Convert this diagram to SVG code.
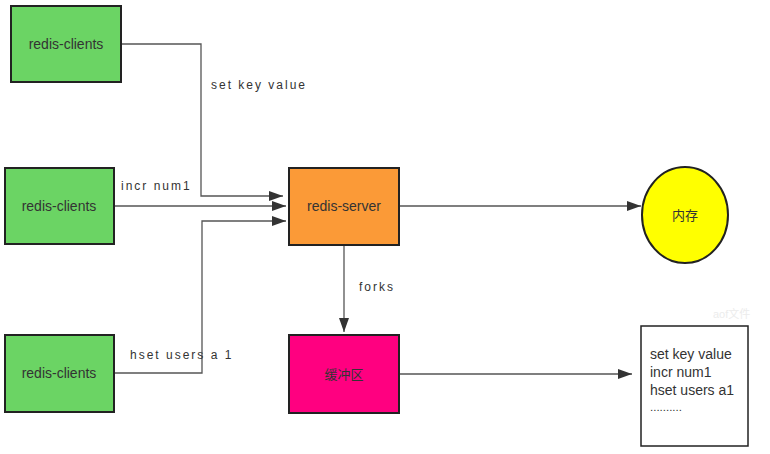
<svg xmlns="http://www.w3.org/2000/svg" width="770" height="454" viewBox="0 0 770 454">
<style>
.node{stroke:#222;stroke-width:2}
.nt{font-family:"Liberation Sans",Arial,"Noto Sans CJK SC",sans-serif;font-size:14px;fill:#333;text-anchor:middle}
.ct{font-family:"Liberation Sans",Arial,"Noto Sans CJK SC",sans-serif;font-size:13px;fill:#333;text-anchor:middle}
.el{font-family:"Liberation Sans",Arial,sans-serif;font-size:12px;fill:#333;letter-spacing:2px}
.conn{fill:none;stroke:#555;stroke-width:1.3}
.ft{font-family:"Liberation Sans",Arial,sans-serif;font-size:14px;fill:#333}
</style>
<defs>
<marker id="arr" viewBox="0 0 14 10" refX="14" refY="5" markerWidth="14" markerHeight="10" markerUnits="userSpaceOnUse" orient="auto">
<path d="M0,0 L14,5 L0,10 Z" fill="#333"/>
</marker>
</defs>
<rect width="770" height="454" fill="#fff"/>
<g id="connectors">
<polyline class="conn" points="121,44 201,44 201,196 283,196" marker-end="url(#arr)"/>
<polyline class="conn" points="114,206 286,206" marker-end="url(#arr)"/>
<polyline class="conn" points="114,373 202,373 202,221 286,221" marker-end="url(#arr)"/>
<polyline class="conn" points="399,206 641,206" marker-end="url(#arr)"/>
<polyline class="conn" points="344,245 344,332" marker-end="url(#arr)"/>
<polyline class="conn" points="399,374 632,374" marker-end="url(#arr)"/>
<text class="el" x="211" y="89">set key value</text>
<text class="el" x="121" y="190">incr num1</text>
<text class="el" x="130" y="359">hset users a 1</text>
<text class="el" x="359" y="291">forks</text>
</g>
<g id="client1">
<rect class="node" x="11" y="6" width="110" height="76" fill="#6bd464"/>
<text class="nt" x="66" y="49">redis-clients</text>
</g>
<g id="client2">
<rect class="node" x="5" y="168" width="109" height="76" fill="#6bd464"/>
<text class="nt" x="59" y="211">redis-clients</text>
</g>
<g id="client3">
<rect class="node" x="5" y="335" width="109" height="77" fill="#6bd464"/>
<text class="nt" x="59" y="378">redis-clients</text>
</g>
<g id="server">
<rect class="node" x="289" y="168" width="110" height="77" fill="#fb9a37"/>
<text class="nt" x="344" y="211">redis-server</text>
</g>
<g id="buffer">
<rect class="node" x="289" y="335" width="110" height="78" fill="#ff0080"/>
<text class="ct" x="344" y="379">缓冲区</text>
</g>
<g id="memory">
<ellipse class="node" cx="685" cy="215" rx="43" ry="48" fill="#ffff00" stroke-width="1.5"/>
<text class="ct" x="685" y="220">内存</text>
</g>
<g id="file">
<text x="713" y="318" font-family="Liberation Sans,'Noto Sans CJK SC',sans-serif" font-size="11" fill="#ececec">aof文件</text>
<rect x="641" y="326" width="107" height="120" fill="#fff" stroke="#222" stroke-width="1.5"/>
<text class="ft" x="650" y="359">set key value</text>
<text class="ft" x="650" y="377">incr num1</text>
<text class="ft" x="650" y="395">hset users a1</text>
<text class="ft" x="650" y="411" style="font-size:11.5px">..........</text>
</g>
</svg>
